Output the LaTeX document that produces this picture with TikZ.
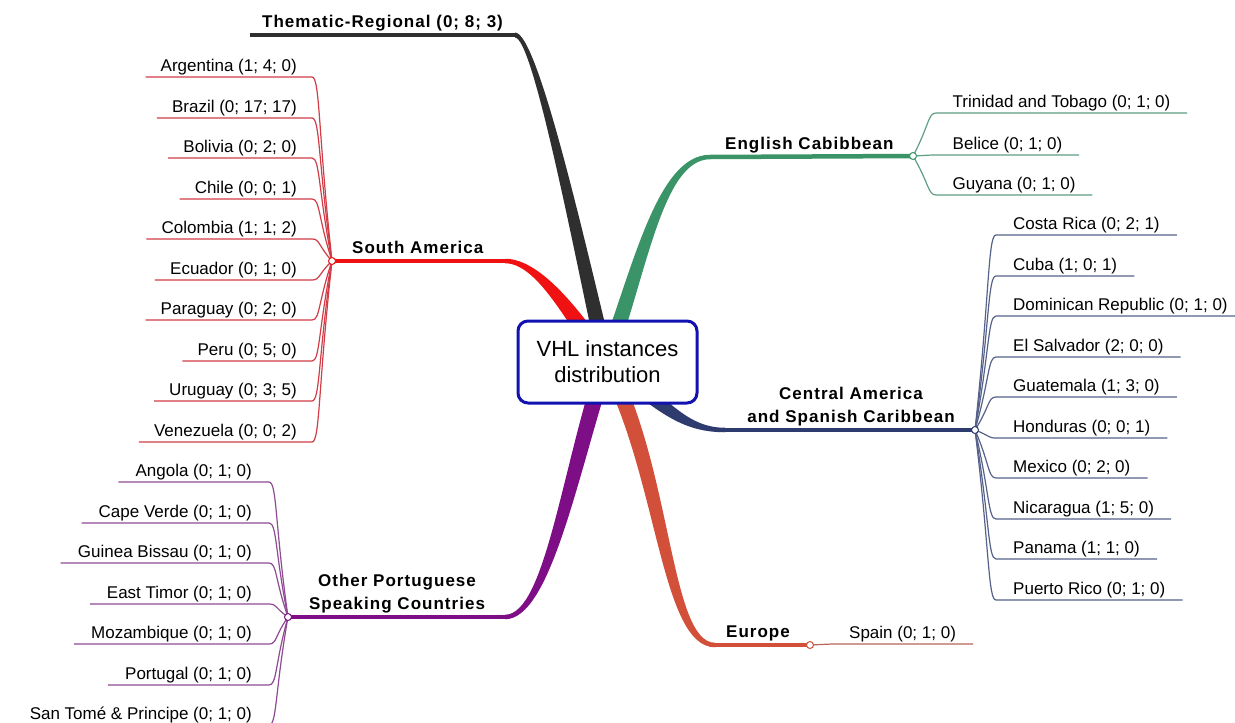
\documentclass[tikz,border=0pt]{standalone}
\usepackage{fontspec}
\setmainfont{Liberation Sans}
\newfontfamily\lblfont[LetterSpace=6]{Liberation Sans}
\usetikzlibrary{calc}
\definecolor{cthem}{HTML}{2F2F2F}
\definecolor{cred}{HTML}{F01212}
\definecolor{credt}{HTML}{D23C46}
\definecolor{cgreen}{HTML}{3A9468}
\definecolor{cgreent}{HTML}{5E9E82}
\definecolor{cnavy}{HTML}{2E3B6E}
\definecolor{cnavyt}{HTML}{56628A}
\definecolor{corange}{HTML}{D2503A}
\definecolor{coranget}{HTML}{B86458}
\definecolor{cpurple}{HTML}{7E0E86}
\definecolor{cpurplet}{HTML}{8E4A92}
\definecolor{cbox}{HTML}{1212B0}
\begin{document}
\begin{tikzpicture}[x=1pt,y=-1pt,
  leaf/.style={font=\fontsize{17}{20}\selectfont, text height=12.5pt, text depth=3.8pt, inner ysep=1.2pt, inner xsep=15pt},
  lbl/.style={font=\lblfont\bfseries\fontsize{17}{23}\selectfont, inner sep=0pt, align=center},
  thin/.style={line width=1.2pt},
  stub/.style={line width=4.5pt},
  jn/.style={circle, fill=white, inner sep=0pt, minimum size=7pt, line width=1pt}]
\useasboundingbox (0,0) rectangle (1235,723);
\fill[white] (0,0) rectangle (1235,723);

% junction coordinates
\coordinate (jsa) at (332,261);
\coordinate (jpt) at (288,617);
\coordinate (jen) at (913,156);
\coordinate (jca) at (975,430);
\coordinate (jeu) at (810,645);

% ribbons
\fill[cthem] (613.8,360.2) .. controls (582.9,233.7) and (537.5,32.5) .. (515,32.5) -- (515,37.5) .. controls (532.5,37.5) and (571.1,236.3) .. (598.2,363.8) -- cycle;
\draw[cthem, stub] (515,35) -- (250,35);

\fill[cred] (613,357) .. controls (582,314) and (542,258.75) .. (505,258.75) -- (505,263.25) .. controls (538,263.25) and (568,326) .. (599,367) -- cycle;
\draw[cred, stub] (505,261) -- (jsa);

\fill[cgreen] (613.5,364.8) .. controls (647,272) and (663,159.25) .. (710,159.25) -- (710,154.75) .. controls (657,154.75) and (633,268) .. (598.5,359.2) -- cycle;
\draw[cgreen, stub] (710,157) -- (jen);

\fill[cnavy] (601.4,368.5) .. controls (655,407) and (677,432.25) .. (725,432.25) -- (725,427.75) .. controls (683,427.75) and (665,393) .. (610.6,355.5) -- cycle;
\draw[cnavy, stub] (725,430) -- (jca);

\fill[corange] (599,365.8) .. controls (658,474) and (660,647.25) .. (715,647.25) -- (715,642.75) .. controls (670,642.75) and (672,466) .. (613,358.2) -- cycle;
\draw[corange, stub] (715,645) -- (jeu);

\fill[cpurple] (598.4,359.5) .. controls (562,467) and (545,614.75) .. (505,614.75) -- (505,619.25) .. controls (551,619.25) and (578,473) .. (613.6,364.5) -- cycle;
\draw[cpurple, stub] (505,617) -- (jpt);

% center
\node[draw=cbox, line width=3pt, rounded corners=10pt, fill=white, minimum width=179pt, minimum height=82pt, align=center, inner sep=0pt, font=\fontsize{22}{26}\selectfont] (root) at (607.5,362) {VHL instances\\distribution};

% branch labels
\node[lbl, anchor=base west] (them) at (262,27) {Thematic-Regional (0; 8; 3)};
\node[lbl, anchor=base west] (sa) at (352,253) {South America};
\node[lbl, anchor=base west] (en) at (725,149) {English Cabibbean};
\node[lbl] (ca) at (851,407) {Central America\\and Spanish Caribbean};
\node[lbl, anchor=base west] (eu) at (726,637) {Europe};
\node[lbl] (pt) at (397,594) {Other Portuguese\\Speaking Countries};

% South America children
\node[leaf, anchor=south east] (ar) at (312,77) {Argentina (1; 4; 0)};
\node[leaf, anchor=south east] (br) at (312,118) {Brazil (0; 17; 17)};
\node[leaf, anchor=south east] (bo) at (312,158) {Bolivia (0; 2; 0)};
\node[leaf, anchor=south east] (cl) at (312,199) {Chile (0; 0; 1)};
\node[leaf, anchor=south east] (co) at (312,239) {Colombia (1; 1; 2)};
\node[leaf, anchor=south east] (ec) at (312,280) {Ecuador (0; 1; 0)};
\node[leaf, anchor=south east] (py) at (312,320) {Paraguay (0; 2; 0)};
\node[leaf, anchor=south east] (pe) at (312,361) {Peru (0; 5; 0)};
\node[leaf, anchor=south east] (uy) at (312,401) {Uruguay (0; 3; 5)};
\node[leaf, anchor=south east] (ve) at (312,442) {Venezuela (0; 0; 2)};
\foreach \n in {ar,br,bo,cl,co,ec,py,pe,uy,ve}
  \draw[credt, thin] (jsa) .. controls ($(jsa)!0.7!(\n.south east)$) and ($(\n.south east)+(8,0)$) .. (\n.south east) -- (\n.south west);

% Portuguese children
\node[leaf, inner xsep=17pt, anchor=south east] (ao) at (269,482) {Angola (0; 1; 0)};
\node[leaf, inner xsep=17pt, anchor=south east] (cv) at (269,523) {Cape Verde (0; 1; 0)};
\node[leaf, inner xsep=17pt, anchor=south east] (gb) at (269,563) {Guinea Bissau (0; 1; 0)};
\node[leaf, inner xsep=17pt, anchor=south east] (tl) at (269,604) {East Timor (0; 1; 0)};
\node[leaf, inner xsep=17pt, anchor=south east] (mz) at (269,644) {Mozambique (0; 1; 0)};
\node[leaf, inner xsep=17pt, anchor=south east] (po) at (269,685) {Portugal (0; 1; 0)};
\node[leaf, inner xsep=17pt, anchor=south east] (st) at (269,725) {San Tomé \& Principe (0; 1; 0)};
\foreach \n in {ao,cv,gb,tl,mz,po,st}
  \draw[cpurplet, thin] (jpt) .. controls ($(jpt)!0.7!(\n.south east)$) and ($(\n.south east)+(8,0)$) .. (\n.south east) -- (\n.south west);

% English children
\node[leaf, inner xsep=16.5pt, anchor=south west] (tt) at (936,113) {Trinidad and Tobago (0; 1; 0)};
\node[leaf, inner xsep=16.5pt, anchor=south west] (bz) at (936,155) {Belice (0; 1; 0)};
\node[leaf, inner xsep=16.5pt, anchor=south west] (gy) at (936,195) {Guyana (0; 1; 0)};
\foreach \n in {tt,bz,gy}
  \draw[cgreent, thin] (jen) .. controls ($(jen)!0.7!(\n.south west)$) and ($(\n.south west)+(-8,0)$) .. (\n.south west) -- (\n.south east);

% Central America children
\node[leaf, inner xsep=17pt, anchor=south west] (cr) at (996,235) {Costa Rica (0; 2; 1)};
\node[leaf, inner xsep=17pt, anchor=south west] (cu) at (996,276) {Cuba (1; 0; 1)};
\node[leaf, inner xsep=17pt, anchor=south west] (do) at (996,316) {Dominican Republic (0; 1; 0)};
\node[leaf, inner xsep=17pt, anchor=south west] (sv) at (996,357) {El Salvador (2; 0; 0)};
\node[leaf, inner xsep=17pt, anchor=south west] (gt) at (996,397) {Guatemala (1; 3; 0)};
\node[leaf, inner xsep=17pt, anchor=south west] (hn) at (996,438) {Honduras (0; 0; 1)};
\node[leaf, inner xsep=17pt, anchor=south west] (mx) at (996,478) {Mexico (0; 2; 0)};
\node[leaf, inner xsep=17pt, anchor=south west] (ni) at (996,519) {Nicaragua (1; 5; 0)};
\node[leaf, inner xsep=17pt, anchor=south west] (pa) at (996,559) {Panama (1; 1; 0)};
\node[leaf, inner xsep=17pt, anchor=south west] (pr) at (996,600) {Puerto Rico (0; 1; 0)};
\foreach \n in {cr,cu,do,sv,gt,hn,mx,ni,pa,pr}
  \draw[cnavyt, thin] (jca) .. controls ($(jca)!0.7!(\n.south west)$) and ($(\n.south west)+(-8,0)$) .. (\n.south west) -- (\n.south east);

% Europe child
\node[leaf, inner xsep=17pt, anchor=south west] (es) at (832,644) {Spain (0; 1; 0)};
\draw[coranget, thin] (jeu) -- (es.south west) -- (es.south east);

% junction dots
\node[jn, draw=cred] (dsa) at (jsa) {};
\node[jn, draw=cpurple] (dpt) at (jpt) {};
\node[jn, draw=cgreen] (den) at (jen) {};
\node[jn, draw=cnavy] (dca) at (jca) {};
\node[jn, draw=corange] (deu) at (jeu) {};
\end{tikzpicture}
\end{document}
